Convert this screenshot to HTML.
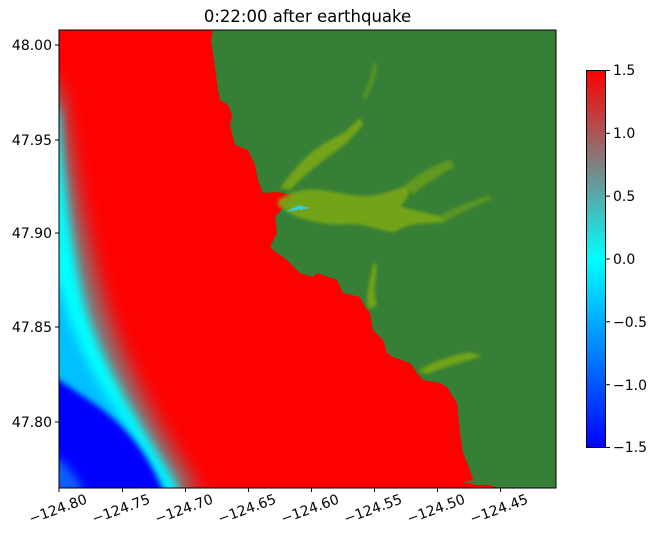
<!DOCTYPE html>
<html><head><meta charset="utf-8"><style>
body{margin:0;background:#fff;width:658px;height:541px;overflow:hidden}
text{font-family:"DejaVu Sans","Liberation Sans",sans-serif;fill:#000}
</style></head><body>
<svg width="658" height="541" viewBox="0 0 658 541" xmlns="http://www.w3.org/2000/svg">
<defs>
<clipPath id="pc"><rect x="59" y="30" width="497" height="458"/></clipPath>
<filter id="b12" x="-50%" y="-50%" width="200%" height="200%"><feGaussianBlur stdDeviation="10"/></filter>
<filter id="b6" x="-50%" y="-50%" width="200%" height="200%"><feGaussianBlur stdDeviation="5"/></filter>
<filter id="b3" x="-50%" y="-50%" width="200%" height="200%"><feGaussianBlur stdDeviation="3"/></filter>
<filter id="b1"><feGaussianBlur stdDeviation="1.5"/></filter>
<linearGradient id="cb" x1="0" y1="0" x2="0" y2="1">
<stop offset="0" stop-color="#ff0000"/>
<stop offset="0.25" stop-color="#808080"/>
<stop offset="0.5" stop-color="#00ffff"/>
<stop offset="0.75" stop-color="#0080ff"/>
<stop offset="1" stop-color="#0000ff"/>
</linearGradient>
</defs>
<g clip-path="url(#pc)">
<rect x="59" y="30" width="497" height="458" fill="#ff0000"/>
<path d="M40 80 L59 85 C68 140 80 230 105 310 C130 385 165 440 200 495 L40 495 Z" fill="#7a8080" filter="url(#b12)"/>
<path d="M40 100 L59 110 C62 160 68 240 86 310 C108 380 148 435 182 495 L40 495 Z" fill="#00ffff" filter="url(#b6)"/>
<path d="M40 270 L59 285 C68 320 80 350 100 385 C125 425 150 455 170 495 L40 495 Z" fill="#00c0ff" filter="url(#b6)"/>
<path d="M40 375 L59 380 C80 395 100 405 120 425 C140 445 152 465 165 495 L40 495 Z" fill="#0000ff" filter="url(#b3)"/>
<path d="M40 455 L59 458 C70 470 80 480 85 495 L40 495 Z" fill="#0a60ff" filter="url(#b6)"/>
<path d="M213 30 L211 40 L214 60 L218 90 L220 100 L228 105 L232 115 L230 125 L235 145 L248 150 L255 165 L258 180 L263 193 L277 192 L293 195 L285 205 L275 217 L277 233 L270 247 L277 253 L287 260 L300 273 L313 277 L317 273 L337 280 L343 293 L360 297 L365 307 L370 313 L373 330 L383 340 L387 353 L393 357 L410 363 L417 373 L423 380 L440 383 L447 387 L457 403 L460 433 L463 453 L470 470 L473 480 L463 482 L477 485 L490 485 L497 488 L560 495 L560 25 Z" fill="#367f36"/>
<g fill="#7aa814" filter="url(#b1)" opacity="0.9">
<path d="M278 200 C290 192 305 188 320 190 C340 192 350 196 365 196 C380 196 395 190 405 186 C412 190 408 200 400 206 C410 210 425 212 440 216 L445 222 C425 224 410 222 395 232 C380 232 370 224 350 224 C330 226 310 222 295 216 C288 212 282 208 278 206 Z"/>
<path d="M280 188 C290 175 300 162 312 152 C325 142 335 138 345 132 C350 128 355 122 360 118 L363 124 C356 134 345 145 335 152 C320 162 305 175 290 190 Z"/>
<path d="M405 185 C420 172 435 165 450 160 L455 166 C440 175 425 185 412 195 Z" opacity="0.7"/>
<path d="M440 215 C460 205 480 198 490 195 L492 199 C475 206 458 214 445 222 Z" opacity="0.6"/>
<path d="M376 262 C378 275 372 290 376 300 C378 306 372 310 368 308 C365 295 370 280 373 265 Z"/>
<path d="M418 372 C430 362 450 356 470 352 L482 356 C465 362 445 366 428 374 Z"/>
<path d="M363 95 C368 85 372 75 374 62 L377 65 C376 80 370 92 365 100 Z" opacity="0.6"/>
</g>
<path d="M285 212 L300 205 L298 210 Z" fill="#30d0e0"/>
<path d="M297 205 L310 208 L300 210 Z" fill="#30d0e0"/>
</g>
<rect x="59" y="30" width="497" height="458" fill="none" stroke="#000" stroke-width="1"/>
<text x="307.5" y="22" font-size="16.5" text-anchor="middle">0:22:00 after earthquake</text>
<g stroke="#000" stroke-width="1">
<line x1="55" y1="45" x2="59" y2="45"/><line x1="55" y1="140" x2="59" y2="140"/><line x1="55" y1="233" x2="59" y2="233"/><line x1="55" y1="327" x2="59" y2="327"/><line x1="55" y1="422" x2="59" y2="422"/>
<line x1="59" y1="488" x2="59" y2="492"/><line x1="122.5" y1="488" x2="122.5" y2="492"/><line x1="185.5" y1="488" x2="185.5" y2="492"/><line x1="248.5" y1="488" x2="248.5" y2="492"/><line x1="311.5" y1="488" x2="311.5" y2="492"/><line x1="374.5" y1="488" x2="374.5" y2="492"/><line x1="437.5" y1="488" x2="437.5" y2="492"/><line x1="500.5" y1="488" x2="500.5" y2="492"/>
</g>
<g font-size="14" text-anchor="end">
<text x="52" y="50">48.00</text>
<text x="52" y="145">47.95</text>
<text x="52" y="238">47.90</text>
<text x="52" y="332">47.85</text>
<text x="52" y="427">47.80</text>
</g>
<g font-size="14" text-anchor="end">
<text transform="translate(88,503) rotate(-20)">−124.80</text>
<text transform="translate(151,503) rotate(-20)">−124.75</text>
<text transform="translate(214,503) rotate(-20)">−124.70</text>
<text transform="translate(277,503) rotate(-20)">−124.65</text>
<text transform="translate(340,503) rotate(-20)">−124.60</text>
<text transform="translate(403,503) rotate(-20)">−124.55</text>
<text transform="translate(466,503) rotate(-20)">−124.50</text>
<text transform="translate(529,503) rotate(-20)">−124.45</text>
</g>
<rect x="586.5" y="70.5" width="19" height="377" fill="url(#cb)" stroke="#000" stroke-width="1"/>
<g stroke="#000"><line x1="606" y1="70.5" x2="610" y2="70.5"/><line x1="606" y1="133.3" x2="610" y2="133.3"/><line x1="606" y1="196.2" x2="610" y2="196.2"/><line x1="606" y1="259" x2="610" y2="259"/><line x1="606" y1="321.8" x2="610" y2="321.8"/><line x1="606" y1="384.7" x2="610" y2="384.7"/><line x1="606" y1="447.5" x2="610" y2="447.5"/></g>
<g font-size="14">
<text x="613" y="75">1.5</text><text x="613" y="138">1.0</text><text x="613" y="201">0.5</text><text x="613" y="264">0.0</text><text x="613" y="327">−0.5</text><text x="613" y="390">−1.0</text><text x="613" y="452">−1.5</text>
</g>
</svg>
</body></html>
